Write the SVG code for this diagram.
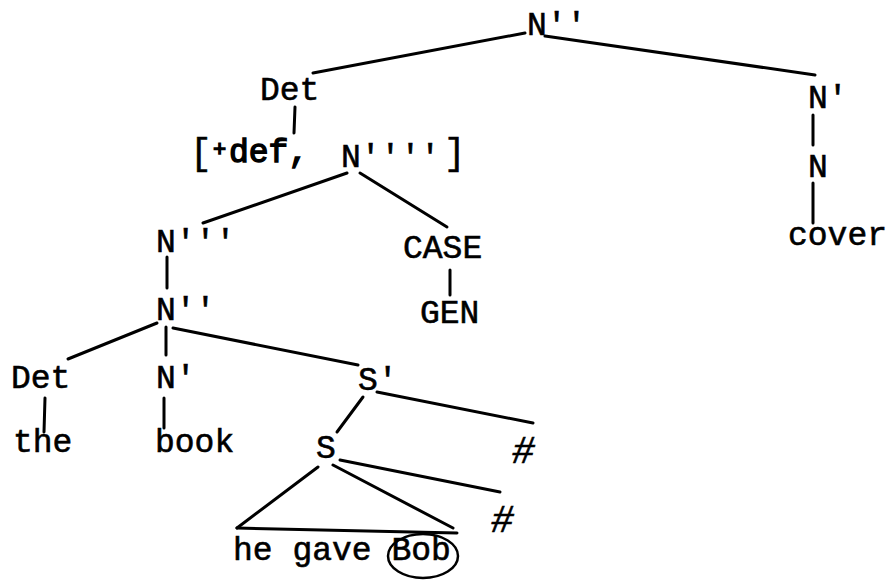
<svg xmlns="http://www.w3.org/2000/svg" width="892" height="580" viewBox="0 0 892 580">
<style>
text{font-family:"Liberation Mono","DejaVu Sans Mono",monospace;font-size:33px;letter-spacing:0;fill:#000;stroke:#000;stroke-width:0.6}
.l line,.l path{stroke:#000;stroke-width:3;stroke-linecap:round;fill:none}
.b{stroke-width:1.4}
.h{font-style:italic;font-size:38px}
.sup{font-size:22px}
.br{font-size:36px}
</style>
<rect width="892" height="580" fill="#fff"/>
<g class="l" id="connectors">
<line x1="525" y1="33" x2="313" y2="73"/>
<line x1="545" y1="36" x2="815" y2="75"/>
<line x1="295" y1="107" x2="294" y2="133"/>
<line x1="347" y1="173" x2="203" y2="223"/>
<line x1="360" y1="173" x2="447" y2="227"/>
<line x1="167" y1="257" x2="167" y2="288"/>
<line x1="450" y1="270" x2="450" y2="295"/>
<line x1="157" y1="323" x2="68" y2="359"/>
<line x1="166" y1="327" x2="166" y2="355"/>
<line x1="173" y1="328" x2="358" y2="365"/>
<line x1="45" y1="398" x2="44" y2="432"/>
<line x1="164" y1="398" x2="164" y2="428"/>
<line x1="363" y1="397" x2="337" y2="432"/>
<line x1="377" y1="392" x2="533" y2="423"/>
<line x1="340" y1="460" x2="500" y2="492"/>
<line x1="318" y1="467" x2="237" y2="528"/>
<line x1="333" y1="465" x2="453" y2="528"/>
<line x1="237" y1="528" x2="457" y2="533"/>
<line x1="813" y1="115" x2="813" y2="145"/>
<line x1="813" y1="183" x2="813" y2="223"/>
</g>
<g id="n-top"><text x="527" y="35">N''</text></g>
<g id="n-det1"><text x="260" y="100">Det</text></g>
<g id="n-feat">
<text class="br" x="190" y="164">[</text>
<text class="sup b" x="213" y="156">+</text>
<text class="b" x="229" y="162">def,</text>
<text x="341" y="167">N''''</text>
<text class="br" x="444" y="164">]</text>
</g>
<g id="n-n3"><text x="156" y="252">N'''</text></g>
<g id="n-case"><text x="403" y="258">CASE</text></g>
<g id="n-n2"><text x="156" y="320">N''</text></g>
<g id="n-gen"><text x="420" y="323">GEN</text></g>
<g id="n-det2"><text x="11" y="388">Det</text></g>
<g id="n-n1"><text x="156" y="388">N'</text></g>
<g id="n-sbar"><text x="358" y="390">S'</text></g>
<g id="n-the"><text x="13" y="452">the</text></g>
<g id="n-book"><text x="155" y="452">book</text></g>
<g id="n-s"><text x="316" y="458">S</text></g>
<g id="n-hash1"><text class="h" x="512" y="463">#</text></g>
<g id="n-hash2"><text class="h" x="491" y="532">#</text></g>
<g id="n-words"><text x="233" y="560">he gave Bob</text>
<ellipse cx="423" cy="556" rx="35" ry="22" fill="none" stroke="#000" stroke-width="2.5"/></g>
<g id="n-nbar-r"><text x="808" y="108">N'</text></g>
<g id="n-n-r"><text x="808" y="177">N</text></g>
<g id="n-cover"><text x="788" y="245">cover</text></g>
</svg>
